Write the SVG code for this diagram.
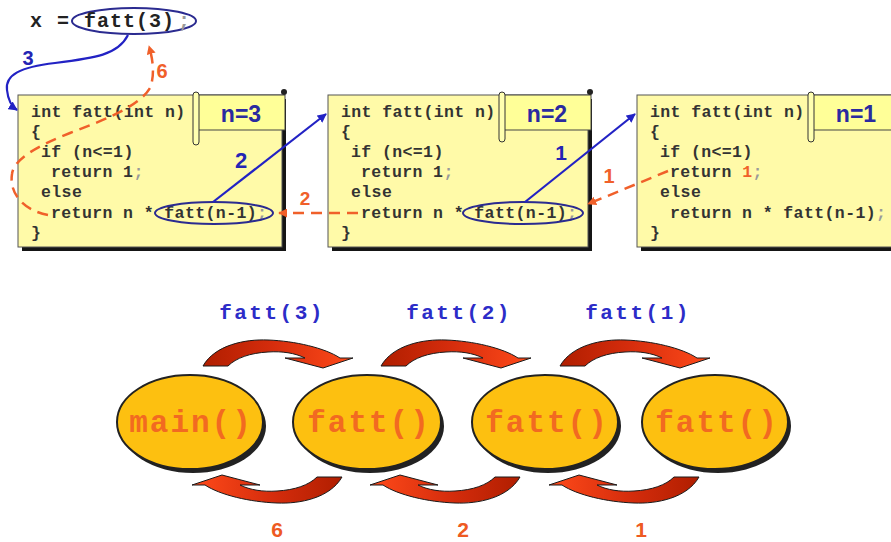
<svg xmlns="http://www.w3.org/2000/svg" xmlns:xlink="http://www.w3.org/1999/xlink" width="891" height="542" viewBox="0 0 891 542">
<style>
.code{font-family:"Liberation Mono","DejaVu Sans Mono",monospace;font-weight:bold;font-size:16.5px;letter-spacing:0.4px;fill:#333}
.semi{fill:#9a9a9a}
.box{fill:#fffaa8;stroke:#555;stroke-width:1}
.shadow{fill:#151515}
.tab{fill:#ffff98;stroke:#444;stroke-width:1}
.bar{fill:#ffffb0;stroke:#333;stroke-width:1}
.nlab{font-family:"Liberation Sans",Arial,sans-serif;font-weight:bold;font-size:23px;fill:#2a2aa0;text-anchor:middle}
.hl{fill:none;stroke:#2b2b90;stroke-width:2}
.blue{fill:none;stroke:#2222c4;stroke-width:2.2}
.red{fill:none;stroke:#f0602a;stroke-width:2.5;stroke-dasharray:11 7}
.bnum{font-family:"Liberation Sans",Arial,sans-serif;font-weight:bold;fill:#2424b4;text-anchor:middle}
.rnum{font-family:"Liberation Sans",Arial,sans-serif;font-weight:bold;fill:#f0602a;text-anchor:middle}
.node{fill:#fdc010;stroke:#222;stroke-width:2}
.nshadow{fill:#222}
.ntext{font-family:"Liberation Mono","DejaVu Sans Mono",monospace;font-weight:bold;font-size:31px;letter-spacing:2px;fill:#f26a21;text-anchor:middle}
.call{font-family:"Liberation Mono","DejaVu Sans Mono",monospace;font-weight:bold;font-size:21px;letter-spacing:2.5px;fill:#2c2cc8;text-anchor:middle}
.ret{font-family:"Liberation Sans",Arial,sans-serif;font-weight:bold;font-size:21px;fill:#ee5a22;text-anchor:middle}
.carrow{fill:url(#cg);stroke:#1a1a1a;stroke-width:1}
</style>
<defs>
<marker id="ab" viewBox="0 0 10 10" refX="9" refY="5" markerWidth="4.2" markerHeight="4.2" orient="auto" markerUnits="strokeWidth"><path d="M0,0 L10,5 L0,10 z" fill="#2222c4"/></marker>
<marker id="ar" viewBox="0 0 10 10" refX="9" refY="5" markerWidth="3.6" markerHeight="3.6" orient="auto" markerUnits="strokeWidth"><path d="M0,0 L10,5 L0,10 z" fill="#f0602a"/></marker>
<linearGradient id="cg" x1="0" y1="0" x2="1" y2="0">
<stop offset="0" stop-color="#b01e00"/>
<stop offset="0.45" stop-color="#d42c0c"/>
<stop offset="1" stop-color="#ff4a1a"/>
</linearGradient>
<path id="ca" class="carrow" d="M 203,366 C 215,345 245,339 268,340 C 295,341 325,348 340,358 L 353,358 L 323,368 L 285,358 L 305,358 C 295,353 282,351 268,352 C 250,353 236,358 228,366 Z"/>
</defs>
<rect width="891" height="542" fill="#ffffff"/>

<g id="main-call">
<ellipse cx="134" cy="21" rx="62" ry="13" class="hl"/>
<text class="code" style="font-size:20px;letter-spacing:1px;fill:#222" y="27"><tspan x="30">x</tspan><tspan x="57">=</tspan><tspan x="84">fatt(3)</tspan><tspan x="178" class="semi">;</tspan></text>
</g>

<g id="frame-n3">
<rect x="22" y="99" width="264" height="152" class="shadow"/>
<rect x="18" y="95" width="264" height="152" class="box"/>
<rect x="197" y="95" width="88" height="35" class="tab"/>
<rect x="193" y="92" width="6" height="53" rx="3" class="bar"/>
<circle cx="284" cy="92" r="3" fill="#222"/>
<text x="241" y="122" class="nlab">n=3</text>
<text class="code">
<tspan x="31" y="117">int fatt(int n)</tspan>
<tspan x="31" y="137">{</tspan>
<tspan x="41" y="157">if (n&lt;=1)</tspan>
<tspan x="51" y="177">return 1<tspan class="semi">;</tspan></tspan>
<tspan x="41" y="197">else</tspan>
<tspan x="51" y="218">return n * fatt(n-1)<tspan class="semi">;</tspan></tspan>
<tspan x="31" y="238">}</tspan>
</text>
<ellipse cx="214" cy="213" rx="59" ry="11" class="hl"/>
</g>

<g id="frame-n2">
<rect x="332" y="99" width="260" height="152" class="shadow"/>
<rect x="328" y="95" width="260" height="152" class="box"/>
<rect x="503" y="95" width="88" height="35" class="tab"/>
<rect x="499" y="92" width="6" height="50" rx="3" class="bar"/>
<circle cx="590" cy="92" r="3" fill="#222"/>
<text x="547" y="122" class="nlab">n=2</text>
<text class="code">
<tspan x="341" y="117">int fatt(int n)</tspan>
<tspan x="341" y="137">{</tspan>
<tspan x="351" y="157">if (n&lt;=1)</tspan>
<tspan x="361" y="177">return 1<tspan class="semi">;</tspan></tspan>
<tspan x="351" y="197">else</tspan>
<tspan x="361" y="218">return n * fatt(n-1)<tspan class="semi">;</tspan></tspan>
<tspan x="341" y="238">}</tspan>
</text>
<ellipse cx="523" cy="213" rx="60" ry="11" class="hl"/>
</g>

<g id="frame-n1">
<rect x="641" y="99" width="270" height="152" class="shadow"/>
<rect x="637" y="95" width="270" height="152" class="box"/>
<rect x="812" y="95" width="95" height="35" class="tab"/>
<rect x="808" y="92" width="6" height="50" rx="3" class="bar"/>
<text x="856" y="122" class="nlab">n=1</text>
<text class="code">
<tspan x="650" y="117">int fatt(int n)</tspan>
<tspan x="650" y="137">{</tspan>
<tspan x="660" y="157">if (n&lt;=1)</tspan>
<tspan x="670" y="177">return <tspan fill="#f0602a">1</tspan><tspan class="semi">;</tspan></tspan>
<tspan x="660" y="197">else</tspan>
<tspan x="670" y="218">return n * fatt(n-1)<tspan class="semi">;</tspan></tspan>
<tspan x="650" y="238">}</tspan>
</text>
</g>

<g id="connectors">
<path class="blue" marker-end="url(#ab)" d="M 128,35 C 118,55 95,58 55,63 C 20,67 5,75 7,90 C 8,100 11,106 17,110"/>
<path class="blue" marker-end="url(#ab)" d="M 213,202 L 326,114"/>
<path class="blue" marker-end="url(#ab)" d="M 525,202 L 635,114"/>
<path class="red" marker-end="url(#ar)" d="M 48,215 C 22,210 9,192 12,174 C 14,158 40,145 70,133 C 110,118 140,105 150,88 C 155,75 153,60 149,46"/>
<path class="red" marker-end="url(#ar)" d="M 358,213 L 279,213"/>
<path class="red" marker-end="url(#ar)" d="M 668,171 L 588,204"/>
<text x="28" y="65" class="bnum" font-size="20">3</text>
<text x="241" y="168" class="bnum" font-size="22">2</text>
<text x="561" y="160" class="bnum" font-size="21">1</text>
<text x="162" y="78" class="rnum" font-size="20">6</text>
<text x="305" y="205" class="rnum" font-size="19">2</text>
<text x="609" y="183" class="rnum" font-size="20">1</text>
</g>

<g id="call-arrows">
<use xlink:href="#ca"/>
<use xlink:href="#ca" transform="translate(178,0)"/>
<use xlink:href="#ca" transform="translate(357,0)"/>
<use xlink:href="#ca" transform="rotate(180 272.5 421.5)"/>
<use xlink:href="#ca" transform="translate(178,0) rotate(180 272.5 421.5)"/>
<use xlink:href="#ca" transform="translate(357,0) rotate(180 272.5 421.5)"/>
<text x="272" y="319" class="call">fatt(3)</text>
<text x="459" y="319" class="call">fatt(2)</text>
<text x="638" y="319" class="call">fatt(1)</text>
<text x="277" y="537" class="ret">6</text>
<text x="463" y="537" class="ret">2</text>
<text x="641" y="537" class="ret">1</text>
</g>

<g id="node-main">
<ellipse cx="193" cy="426" rx="73" ry="47" class="nshadow"/>
<ellipse cx="190" cy="422" rx="73" ry="47" class="node"/>
<text x="191" y="432" class="ntext">main()</text>
</g>
<g id="node-fatt3">
<ellipse cx="370" cy="426" rx="74" ry="47" class="nshadow"/>
<ellipse cx="367" cy="422" rx="74" ry="47" class="node"/>
<text x="369" y="432" class="ntext">fatt()</text>
</g>
<g id="node-fatt2">
<ellipse cx="548" cy="426" rx="73" ry="47" class="nshadow"/>
<ellipse cx="545" cy="422" rx="73" ry="47" class="node"/>
<text x="547" y="432" class="ntext">fatt()</text>
</g>
<g id="node-fatt1">
<ellipse cx="718" cy="426" rx="73" ry="47" class="nshadow"/>
<ellipse cx="715" cy="422" rx="73" ry="47" class="node"/>
<text x="717" y="432" class="ntext">fatt()</text>
</g>
</svg>
